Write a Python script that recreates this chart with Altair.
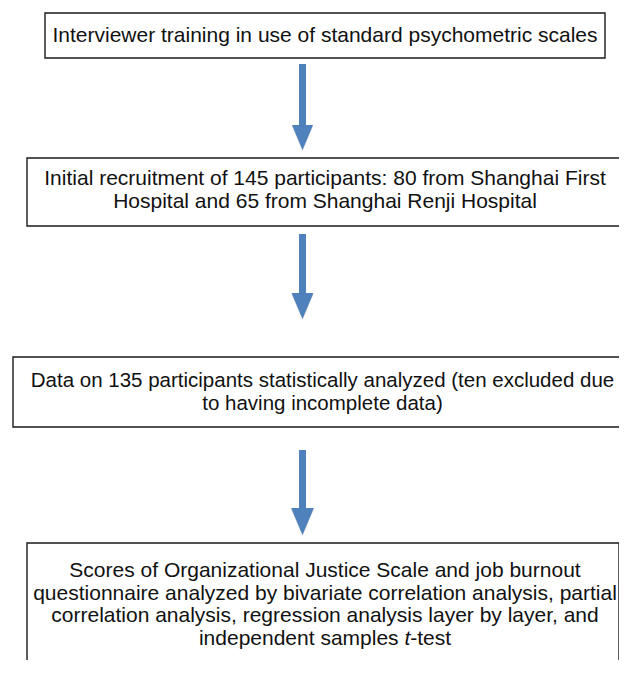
import altair as alt
import pandas as pd

# ---- content ----
step_text = [
    "Interviewer training in use of standard psychometric scales",
    "Initial recruitment of 145 participants: 80 from Shanghai First\nHospital and 65 from Shanghai Renji Hospital",
    "Data on 135 participants statistically analyzed (ten excluded due\nto having incomplete data)",
    "Scores of Organizational Justice Scale and job burnout\nquestionnaire analyzed by bivariate correlation analysis, partial\ncorrelation analysis, regression analysis layer by layer, and",
]
last_line_parts = ["independent samples", "t", "-test"]
last_line_italic = ["normal", "italic", "normal"]

# ---- layout (page pixel coordinates) ----
box_left = [45, 27, 13, 27]
box_right = [605, 623, 660, 619]
box_top = [13, 158, 357, 543]
box_bottom = [58, 226, 427, 700]
text_x = [325, 325, 322.5, 325]
text_baseline = [42, 185, 387, 577]
text_size = [21, 21, 20.5, 21]

arrow_x = [302.5, 302.5, 302.5]
shaft_top = [64, 234, 450]
head_top = [125, 293, 508]
tip = [150, 319, 535]

FS = 21
last_line_x = [325 - 126 + FS * 9.505, 325 - 126 + FS * 9.783, 325 - 126 + FS * 10.061]
last_line_align = ["right", "left", "left"]
last_line_y = [644.5, 644.5, 644.5]

M = 8
PW, PH = 611, 652
xs = alt.Scale(domain=[M, M + PW], nice=False, zero=False)
ys = alt.Scale(domain=[M, M + PH], nice=False, zero=False, reverse=True)

boxes = pd.DataFrame({
    "x": box_left, "x2": box_right, "y": box_top, "y2": box_bottom,
    "tx": text_x, "ty": text_baseline, "text": step_text, "fs": text_size,
})
arrows = pd.DataFrame({
    "x": [a - 3.5 for a in arrow_x], "x2": [a + 3.5 for a in arrow_x],
    "xc": arrow_x,
    "y": shaft_top, "y2": [h + 2 for h in head_top],
    "hy": [(h + t) / 2 for h, t in zip(head_top, tip)],
    "hs": [(t - h) ** 2 for h, t in zip(head_top, tip)],
    "hy_sh": [(h + t) / 2 + 1.5 for h, t in zip(head_top, tip)],
})
last = pd.DataFrame({
    "x": last_line_x, "y": last_line_y, "text": last_line_parts,
    "style": last_line_italic, "align": last_line_align,
})

blue = "#4F81BD"
font = "Liberation Sans"

rects = alt.Chart(boxes).mark_rect(
    fill="white", stroke="#1a1a1a", strokeWidth=1.4, clip=True
).encode(
    x=alt.X("x:Q", scale=xs, axis=None), x2="x2:Q",
    y=alt.Y("y:Q", scale=ys, axis=None), y2="y2:Q",
)

texts = alt.Chart(boxes).mark_text(
    align="center", baseline="alphabetic", font=font,
    lineBreak="\n", lineHeight=22.5, color="#111111",
).encode(
    x=alt.X("tx:Q", scale=xs, axis=None),
    y=alt.Y("ty:Q", scale=ys, axis=None),
    text="text:N",
    size=alt.Size("fs:Q", scale=None, legend=None),
)

last_layers = []
for i in range(len(last_line_parts)):
    last_layers.append(
        alt.Chart(last.iloc[[i]]).mark_text(
            align=last_line_align[i], baseline="alphabetic", font=font,
            fontSize=FS, fontStyle=last_line_italic[i], color="#111111",
        ).encode(
            x=alt.X("x:Q", scale=xs, axis=None),
            y=alt.Y("y:Q", scale=ys, axis=None),
            text="text:N",
        )
    )

tri = "M-0.84,-1L0.84,-1L0,1Z"

shadow = alt.Chart(arrows).mark_point(
    shape=tri, filled=True, color="#9a9a9a", opacity=0.35, strokeWidth=0
).encode(
    x=alt.X("xc:Q", scale=xs, axis=None),
    y=alt.Y("hy_sh:Q", scale=ys, axis=None),
    size=alt.Size("hs:Q", scale=None, legend=None),
)

shafts = alt.Chart(arrows).mark_rect(color=blue).encode(
    x=alt.X("x:Q", scale=xs, axis=None), x2="x2:Q",
    y=alt.Y("y:Q", scale=ys, axis=None), y2="y2:Q",
)

heads = alt.Chart(arrows).mark_point(
    shape=tri, filled=True, color=blue, opacity=1, strokeWidth=0
).encode(
    x=alt.X("xc:Q", scale=xs, axis=None),
    y=alt.Y("hy:Q", scale=ys, axis=None),
    size=alt.Size("hs:Q", scale=None, legend=None),
)

chart = alt.layer(rects, texts, *last_layers, shadow, shafts, heads).properties(
    width=PW, height=PH, padding=0,
    autosize=alt.AutoSizeParams(type="none"),
    background="white",
).configure_view(strokeWidth=0)

chart.save("out.html", embed_options={"renderer": "svg", "actions": False})
